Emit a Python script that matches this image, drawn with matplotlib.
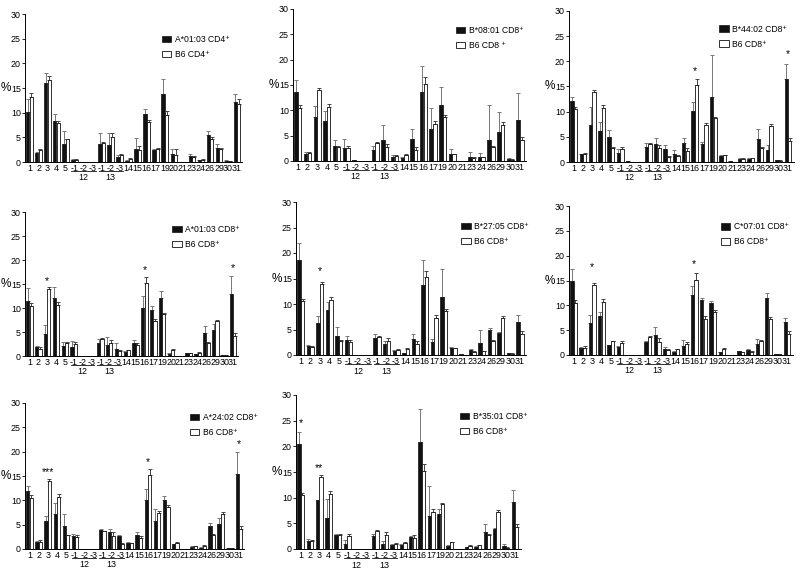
import matplotlib
matplotlib.use("Agg")
import matplotlib.pyplot as plt
import numpy as np

plt.rcParams["font.family"] = ["Liberation Sans", "DejaVu Sans"]

# categories (TRBV families); 12 and 13 have three subfamilies each
tick_labels = ['1', '2', '3', '4', '5', '-1', '-2', '-3', '-1', '-2', '-3',
               '14', '15', '16', '17', '19', '20', '21', '23', '24', '26',
               '29', '30', '31']
groups = [('12', 5, 7), ('13', 8, 10)]

# B6 controls
b6_cd4 = [13.1, 2.4, 16.6, 7.9, 4.6, 0.5, 0, 0, 3.9, 5.1, 1.5, 0.7, 2.4,
          8.1, 2.6, 9.6, 1.4, 0, 1.1, 0.5, 4.7, 2.7, 0.15, 11.7]
b6_cd4_err = [0.8, 0.2, 0.9, 0.4, 0.1, 0.1, 0, 0, 0.1, 0.7, 0.1, 0.1, 0.8,
              0.5, 0.3, 0.7, 1.3, 0, 0.1, 0.1, 0.4, 0.1, 0.05, 1.0]
b6_cd8 = [10.5, 1.5, 14.0, 10.7, 2.8, 2.5, 0, 0, 3.6, 2.7, 1.0, 1.2, 2.2,
          15.2, 7.3, 8.7, 1.3, 0, 0.6, 0.7, 2.8, 7.2, 0.25, 4.2]
b6_cd8_err = [0.5, 0.3, 0.4, 0.6, 0.1, 0.4, 0, 0, 0.15, 0.7, 0.2, 0.1, 0.5,
              1.3, 0.5, 0.3, 0.1, 0, 0.1, 0.15, 0.2, 0.4, 0.05, 0.6]

# HLA transgenic samples
a0103_cd4 = [10.2, 1.9, 16.1, 8.3, 3.7, 0.5, 0, 0, 3.7, 3.4, 1.0, 0.3, 2.7,
             9.7, 2.4, 13.7, 1.6, 0, 1.2, 0.4, 5.4, 2.8, 0.3, 12.1]
a0103_cd4_err = [2.5, 0.2, 2.0, 1.5, 2.5, 0.2, 0, 0, 2.1, 2.5, 0.4, 0.1, 2.2,
                 1.1, 0.2, 3.2, 1.1, 0, 0.4, 0.1, 0.9, 0.9, 0.05, 1.6]
b0801_cd8 = [13.7, 1.4, 8.7, 7.8, 2.9, 2.5, 0.1, 0, 2.2, 4.2, 0.8, 0.5, 4.4,
             13.6, 6.4, 11.0, 1.4, 0, 0.8, 0.7, 4.2, 5.7, 0.4, 8.0]
b0801_cd8_err = [2.3, 0.4, 2.2, 2.0, 1.2, 1.9, 0, 0, 0.7, 3.0, 0.4, 0.3, 1.9,
                 5.2, 4.0, 3.7, 0.9, 0, 0.9, 0.8, 6.9, 4.0, 0.1, 5.5]
b4402_cd8 = [12.1, 1.5, 7.3, 6.1, 5.0, 1.8, 0.1, 0, 3.0, 3.5, 2.6, 1.6, 3.7,
             10.2, 3.5, 13.0, 1.2, 0.1, 0.6, 0.6, 4.6, 2.4, 0.3, 16.4]
b4402_cd8_err = [0.8, 0.1, 3.7, 1.8, 1.4, 0.8, 0, 0, 0.8, 1.3, 0.7, 0.7, 1.1,
                 1.7, 0.5, 8.2, 0.1, 0, 0.1, 0.1, 2.0, 1.0, 0.05, 3.0]
a0103_cd8 = [11.5, 1.8, 4.6, 12.0, 2.0, 1.9, 0, 0, 2.8, 2.3, 1.5, 0.8, 2.8,
             10.1, 9.6, 12.0, 0.5, 0, 0.6, 0.35, 4.8, 5.5, 0.2, 13.0]
a0103_cd8_err = [2.6, 0.3, 1.8, 2.4, 0.9, 1.2, 0, 0, 0.8, 1.7, 1.2, 0.3, 0.6,
                 2.3, 0.8, 1.5, 0.2, 0, 0.1, 0.1, 1.4, 1.1, 0.05, 3.7]
b2705_cd8 = [18.6, 1.7, 6.2, 8.9, 3.8, 2.9, 0, 0, 3.4, 2.2, 0.8, 0.3, 3.1,
             13.7, 2.6, 11.3, 1.4, 0.1, 0.9, 2.3, 5.0, 4.4, 0.3, 6.5]
b2705_cd8_err = [3.3, 0.3, 1.5, 1.5, 1.7, 0.8, 0, 0, 0.8, 0.5, 0.2, 0.1, 1.0,
                 4.9, 0.5, 5.5, 0.2, 0, 0.3, 2.6, 0.3, 0.1, 0.05, 1.3]
c0701_cd8 = [14.9, 1.4, 6.4, 7.9, 2.0, 1.7, 0, 0, 2.7, 4.0, 1.3, 0.7, 1.9,
             12.1, 11.0, 10.5, 0.6, 0, 0.8, 1.0, 2.3, 11.4, 0.2, 6.6]
c0701_cd8_err = [2.4, 0.3, 1.6, 0.8, 0.1, 0.2, 0, 0, 0.2, 1.7, 0.3, 0.1, 1.1,
                 1.8, 0.4, 0.3, 0.1, 0, 0.1, 0.3, 1.0, 1.0, 0.05, 0.8]
a2402_cd8 = [12.0, 1.5, 5.8, 7.1, 4.7, 2.7, 0, 0, 4.0, 3.5, 2.7, 1.2, 2.9,
             10.1, 5.7, 10.1, 1.0, 0, 0.4, 0.3, 4.7, 5.1, 0.2, 15.4]
a2402_cd8_err = [1.0, 0.1, 0.9, 2.4, 2.4, 0.4, 0, 0, 0.2, 0.6, 0.1, 0.3, 0.6,
                 2.3, 2.6, 0.7, 0.1, 0, 0.2, 0.1, 0.6, 1.3, 0.05, 4.5]
b3501_cd8 = [20.5, 1.6, 9.5, 6.1, 2.7, 1.0, 0, 0, 2.6, 1.0, 0.8, 0.8, 2.3,
             20.9, 6.4, 6.8, 0.5, 0, 0.3, 0.45, 3.3, 3.8, 0.6, 9.1]
b3501_cd8_err = [2.2, 0.4, 0.1, 3.6, 0.2, 0.8, 0, 0, 0.3, 0.5, 0.1, 0.2, 0.3,
                 6.3, 5.8, 1.0, 0.2, 0, 0.1, 0.1, 1.5, 0.2, 0.3, 2.4]

# significance marks: (category index, y, text)
stars_b4402 = [(13, 18.1, '*'), (23, 21.4, '*')]
stars_a0103_cd8 = [(2, 15.6, '*'), (13, 17.8, '*'), (23, 18.3, '*')]
stars_b2705 = [(2, 16.5, '*')]
stars_c0701 = [(2, 17.7, '*'), (13, 18.3, '*')]
stars_a2402 = [(2, 15.8, '***'), (13, 17.8, '*'), (23, 21.6, '*')]
stars_b3501 = [(0, 24.5, '*'), (2, 15.7, '**')]

panels = [
    ('A*01:03 CD4⁺', 'B6 CD4⁺', a0103_cd4, a0103_cd4_err, b6_cd4, b6_cd4_err, []),
    ('B*08:01 CD8⁺', 'B6 CD8 ⁺', b0801_cd8, b0801_cd8_err, b6_cd8, b6_cd8_err, []),
    ('B*44:02 CD8⁺', 'B6 CD8⁺', b4402_cd8, b4402_cd8_err, b6_cd8, b6_cd8_err, stars_b4402),
    ('A*01:03 CD8⁺', 'B6 CD8⁺', a0103_cd8, a0103_cd8_err, b6_cd8, b6_cd8_err, stars_a0103_cd8),
    ('B*27:05 CD8⁺', 'B6 CD8⁺', b2705_cd8, b2705_cd8_err, b6_cd8, b6_cd8_err, stars_b2705),
    ('C*07:01 CD8⁺', 'B6 CD8⁺', c0701_cd8, c0701_cd8_err, b6_cd8, b6_cd8_err, stars_c0701),
    ('A*24:02 CD8⁺', 'B6 CD8⁺', a2402_cd8, a2402_cd8_err, b6_cd8, b6_cd8_err, stars_a2402),
    ('B*35:01 CD8⁺', 'B6 CD8⁺', b3501_cd8, b3501_cd8_err, b6_cd8, b6_cd8_err, stars_b3501),
]

# panel geometry in pixels: y-axis x, last label x, y of 30, y of 0, legend anchor
geom = [
    (25, 237, 14, 162, (0.63, 0.86)),
    (293, 520, 9, 161, (0.70, 0.89)),
    (569, 788, 11, 162, (0.67, 0.91)),
    (25, 233, 212, 356, (0.69, 0.91)),
    (296, 520, 202, 355, (0.72, 0.87)),
    (569, 787, 206, 355, (0.68, 0.89)),
    (25, 239, 403, 549, (0.75, 0.93)),
    (296, 515, 395, 549, (0.73, 0.89)),
]

W, H = 800, 571
fig = plt.figure(figsize=(W / 100, H / 100), dpi=100)
x = np.arange(len(tick_labels))
bw = 0.36

for (lab1, lab2, v1, e1, v2, e2, stars), (x0, x31, y30, y0, leg) in zip(panels, geom):
    s = (x31 - x0) / 23.5
    ax = fig.add_axes([x0 / W, 1 - y0 / H, 24.1 * s / W, (y0 - y30) / H])
    z1 = np.zeros(len(v1))
    ax.bar(x - 0.19, v1, bw, color='#111111', edgecolor='#111111', lw=0.5,
           label=lab1, zorder=2)
    ax.errorbar(x - 0.19, v1, yerr=[z1, e1], fmt='none', ecolor='#777777',
                elinewidth=0.7, capsize=1.2, capthick=0.7, zorder=1)
    ax.bar(x + 0.19, v2, bw, color='white', edgecolor='#111111', lw=0.6,
           label=lab2, zorder=2)
    ax.errorbar(x + 0.19, v2, yerr=[z1, e2], fmt='none', ecolor='#444444',
                elinewidth=0.7, capsize=1.2, capthick=0.7, zorder=1)
    for i, yy, t in stars:
        ax.text(i, yy, t, ha='center', va='center', fontsize=7.5)

    ax.set_xlim(-0.5, 23.6)
    ax.set_ylim(0, 30)
    ax.set_yticks(range(0, 31, 5))
    ax.set_xticks(x)
    ax.set_xticklabels(tick_labels)
    ax.tick_params(axis='x', length=0, pad=1.5, labelsize=6.4)
    ax.tick_params(axis='y', length=2, width=0.6, pad=1, labelsize=6.4)
    for sp in ['top', 'right']:
        ax.spines[sp].set_visible(False)
    for sp in ['left', 'bottom']:
        ax.spines[sp].set_linewidth(0.7)
    ax.set_ylabel('%', rotation=0, fontsize=8.5, ha='right', va='center', labelpad=0)

    for name, a, b in groups:
        ax.plot([a - 0.35, b + 0.35], [-0.06, -0.06], color='#111111', lw=0.6,
                transform=ax.get_xaxis_transform(), clip_on=False)
        ax.text((a + b) / 2, -0.105, name, ha='center', va='center', fontsize=6.4,
                transform=ax.get_xaxis_transform())

    ax.legend(loc='upper left', bbox_to_anchor=leg, frameon=False, fontsize=6.2,
              handlelength=1.1, handleheight=0.75, handletextpad=0.4,
              labelspacing=0.7, borderpad=0, borderaxespad=0)

fig.savefig('out.png', dpi=100)
